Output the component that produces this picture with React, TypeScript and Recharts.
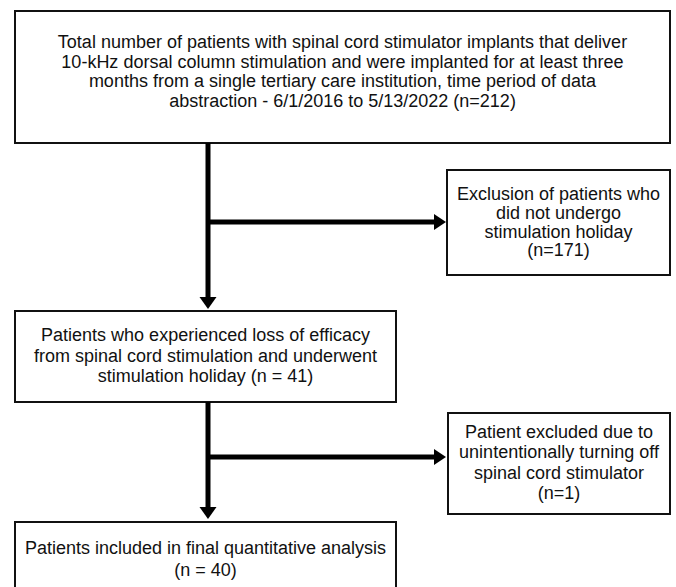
import React from 'react';
import { ComposedChart, XAxis, YAxis, Scatter, ReferenceArea, ReferenceLine } from 'recharts';

// ─── CONTENT ────────────────────────────────────────────────────────────────
const topBoxLines = [
  'Total number of patients with spinal cord stimulator implants that deliver',
  '10-kHz dorsal column stimulation and were implanted for at least three',
  'months from a single tertiary care institution, time period of data',
  'abstraction - 6/1/2016 to 5/13/2022 (n=212)',
];
const exclusionOneLines = ['Exclusion of patients who', 'did not undergo', 'stimulation holiday', '(n=171)'];
const holidayLines = [
  'Patients who experienced loss of efficacy',
  'from spinal cord stimulation and underwent',
  'stimulation holiday (n = 41)',
];
const exclusionTwoLines = ['Patient excluded due to', 'unintentionally turning off', 'spinal cord stimulator', '(n=1)'];
const finalLines = ['Patients included in final quantitative analysis', '(n = 40)'];

// ─── LAYOUT (pixel space of the figure) ───────────────────────────────────────
const W = 676;
const H = 587;
const FONT = '"Liberation Sans", Arial, sans-serif';

const boxes = [
  { x1: 15, x2: 670, y1: 11, y2: 143, textY: 42, lineH: 19.7, lines: topBoxLines },
  { x1: 447, x2: 670, y1: 170, y2: 275, textY: 194, lineH: 18.8, lines: exclusionOneLines },
  { x1: 15, x2: 396, y1: 311, y2: 402, textY: 335, lineH: 20.5, lines: holidayLines },
  { x1: 448, x2: 670, y1: 413, y2: 514, textY: 432, lineH: 20.3, lines: exclusionTwoLines },
  { x1: 15, x2: 396, y1: 522, y2: 590, textY: 548, lineH: 22, lines: finalLines },
];

const connectors = [
  [{ x: 208, y: 143 }, { x: 208, y: 298 }],
  [{ x: 206, y: 222 }, { x: 436, y: 222 }],
  [{ x: 208, y: 402 }, { x: 208, y: 507 }],
  [{ x: 206, y: 457 }, { x: 436, y: 457 }],
];

const arrowTips = [
  { x: 208, y: 309, dir: 'down' },
  { x: 446, y: 222, dir: 'right' },
  { x: 208, y: 519, dir: 'down' },
  { x: 446, y: 457, dir: 'right' },
];

const textAnchors = boxes.map((b) => ({ x: (b.x1 + b.x2) / 2, y: b.textY, lines: b.lines, lineH: b.lineH }));

function ArrowHead(props: any) {
  const { cx, cy, payload } = props;
  const pts =
    payload.dir === 'down'
      ? `${cx - 8.5},${cy - 12} ${cx + 8.5},${cy - 12} ${cx},${cy}`
      : `${cx - 12},${cy - 8} ${cx - 12},${cy + 8} ${cx},${cy}`;
  return <polygon points={pts} fill="#000" />;
}

function BoxText(props: any) {
  const { cx, cy, payload } = props;
  return (
    <g>
      {payload.lines.map((line: string, i: number) => (
        <text
          key={i}
          x={cx}
          y={cy + i * payload.lineH}
          textAnchor="middle"
          dominantBaseline="central"
          fontFamily={FONT}
          fontSize={18}
          fill="#111"
        >
          {line}
        </text>
      ))}
    </g>
  );
}

export default function App() {
  return (
    <div style={{ position: 'absolute', left: 0, top: 0, width: W, height: H, background: '#fff' }}>
      <ComposedChart width={W} height={H} margin={{ top: 0, right: 0, bottom: 0, left: 0 }}>
        <XAxis type="number" dataKey="x" domain={[0, W]} hide allowDataOverflow />
        <YAxis type="number" dataKey="y" domain={[0, H]} hide reversed allowDataOverflow />
        {boxes.map((b, i) => (
          <ReferenceArea
            key={`box-${i}`}
            x1={b.x1}
            x2={b.x2}
            y1={b.y1}
            y2={b.y2}
            fill="#fff"
            fillOpacity={1}
            stroke="#111"
            strokeWidth={2}
            ifOverflow="visible"
          />
        ))}
        {connectors.map((seg, i) => (
          <ReferenceLine key={`line-${i}`} segment={seg} stroke="#000" strokeWidth={5} ifOverflow="visible" />
        ))}
        <Scatter data={arrowTips} shape={ArrowHead} isAnimationActive={false} />
        <Scatter data={textAnchors} shape={BoxText} isAnimationActive={false} />
      </ComposedChart>
    </div>
  );
}
